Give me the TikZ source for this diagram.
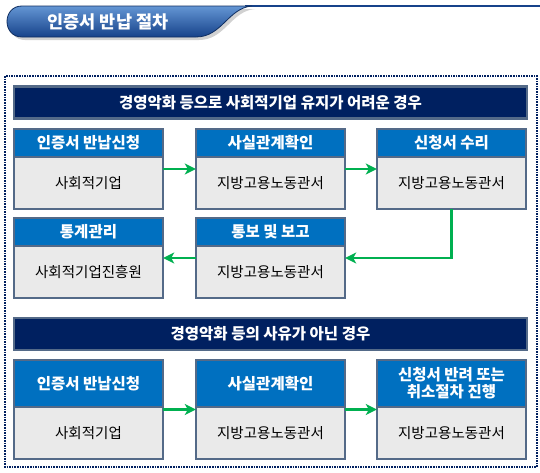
\documentclass[tikz,border=0pt]{standalone}
\usepackage{fontspec}
\setmainfont{Noto Sans CJK KR}
\usetikzlibrary{positioning,arrows.meta,fit}
\definecolor{navy}{RGB}{0,32,96}
\definecolor{hdrblue}{RGB}{0,112,192}
\definecolor{edge}{RGB}{84,106,136}
\definecolor{bodygray}{RGB}{234,234,234}
\definecolor{flowgreen}{RGB}{0,176,80}
\definecolor{bannerlt}{RGB}{100,150,212}
\definecolor{bannerdk}{RGB}{22,66,138}

\begin{document}
\begin{tikzpicture}[x=1pt, y=-1pt,
    hdr/.style={draw=edge, line width=2.5pt, fill=hdrblue, text=white, font=\fontsize{15.5}{17}\selectfont\bfseries,
      minimum width=149pt, minimum height=28pt, inner sep=0pt, outer sep=0pt, align=center},
    body/.style={draw=edge, line width=2.5pt, fill=bodygray, font=\fontsize{14.5}{16}\selectfont,
      minimum width=149pt, minimum height=52pt, inner sep=0pt, outer sep=0pt},
    bar/.style={draw=edge, line width=2.5pt, fill=navy, text=white, font=\fontsize{15.5}{17}\selectfont\bfseries,
      minimum width=513pt, minimum height=32pt, inner sep=0pt},
    flow/.style={draw=flowgreen, line width=2.5pt, -{Stealth[length=11pt,width=11pt,inset=3pt]}},
    whole/.style={inner sep=0pt}]
  \useasboundingbox (0,0) rectangle (540,472);

  % title banner
  \fill[black!18] (25,9) -- (255,9) .. controls (231,11) and (225,40) .. (199,40) -- (25,40) .. controls (5,40) and (5,9) .. (25,9) -- cycle;
  \draw[bannerdk, line width=2pt] (245,6) -- (540,6);
  \shade[top color=bannerlt, bottom color=bannerdk, draw=bannerdk!70!black, line width=0.8pt]
    (22,6) -- (252,6) .. controls (228,8) and (222,37) .. (196,37) -- (22,37) .. controls (2,37) and (2,6) .. (22,6) -- cycle;
  \node[text=white, font=\fontsize{17.5}{19}\selectfont\bfseries] (ttl) at (108,22) {인증서 반납 절차};

  \draw[navy, line width=1.6pt, densely dotted] (5,76) rectangle (537,467);

  % case 1
  \node[bar] (c1) at (270.5,102.5) {경영악화 등으로 사회적기업 유지가 어려운 경우};

  \node[hdr, anchor=north west] (a1t) at (14,129) {인증서 반납신청};
  \node[body, below=0pt of a1t] (a1) {사회적기업};
  \node[hdr, right=33pt of a1t] (a2t) {사실관계확인};
  \node[body, below=0pt of a2t] (a2) {지방고용노동관서};
  \node[hdr, right=32pt of a2t] (a3t) {신청서 수리};
  \node[body, below=0pt of a3t] (a3) {지방고용노동관서};

  \node[hdr, anchor=north west] (b1t) at (14,218) {통계관리};
  \node[body, below=0pt of b1t] (b1) {사회적기업진흥원};
  \node[hdr, right=33pt of b1t] (b2t) {통보 및 보고};
  \node[body, below=0pt of b2t] (b2) {지방고용노동관서};

  \node[whole, fit=(a1t)(a1)] (a1f) {};
  \node[whole, fit=(a2t)(a2)] (a2f) {};
  \node[whole, fit=(a3t)(a3)] (a3f) {};
  \node[whole, fit=(b1t)(b1)] (b1f) {};
  \node[whole, fit=(b2t)(b2)] (b2f) {};

  \draw[flow] (a1f) -- (a2f);
  \draw[flow] (a2f) -- (a3f);
  \draw[flow] (a3f.south) |- (b2f.east);
  \draw[flow] (b2f) -- (b1f);

  % case 2
  \node[bar] (c2) at (270.5,334) {경영악화 등의 사유가 아닌 경우};

  \node[hdr, minimum height=47pt, anchor=north west] (d1t) at (14,360) {인증서 반납신청};
  \node[body, below=0pt of d1t] (d1) {사회적기업};
  \node[hdr, minimum height=47pt, right=33pt of d1t] (d2t) {사실관계확인};
  \node[body, below=0pt of d2t] (d2) {지방고용노동관서};
  \node[hdr, minimum height=47pt, right=32pt of d2t] (d3t) {신청서 반려 또는\\취소절차 진행};
  \node[body, below=0pt of d3t] (d3) {지방고용노동관서};

  \node[whole, fit=(d1t)(d1)] (d1f) {};
  \node[whole, fit=(d2t)(d2)] (d2f) {};
  \node[whole, fit=(d3t)(d3)] (d3f) {};

  \draw[flow] (d1f) -- (d2f);
  \draw[flow] (d2f) -- (d3f);
\end{tikzpicture}
\end{document}
